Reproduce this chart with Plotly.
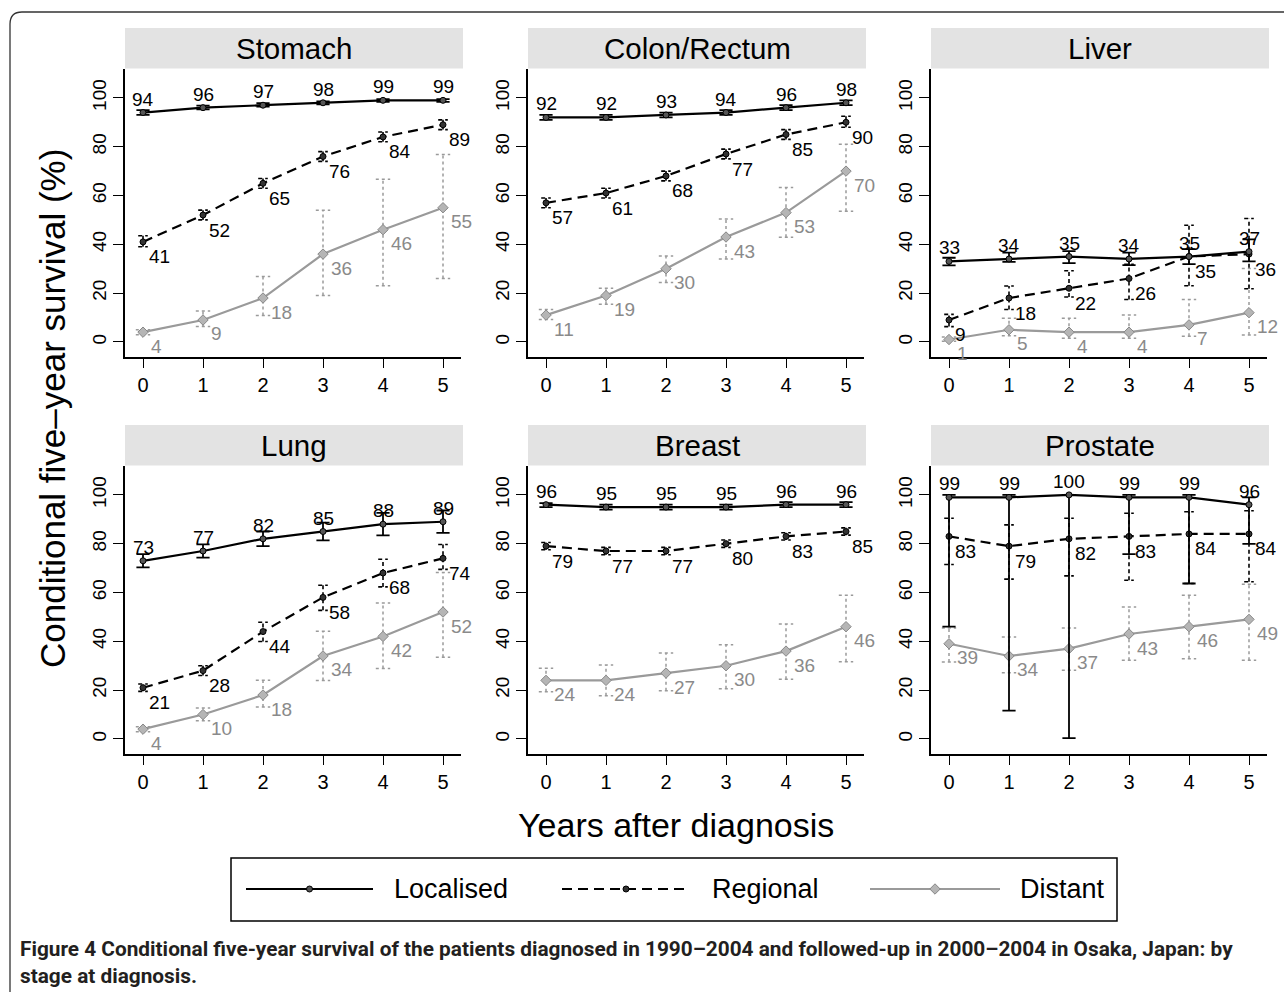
import plotly.graph_objects as go

W, H = 1284, 992
FONT = "Liberation Sans"

years = [0, 1, 2, 3, 4, 5]
panel_titles = ["Stomach", "Colon/Rectum", "Liver", "Lung", "Breast", "Prostate"]
y_ticks = [0, 20, 40, 60, 80, 100]

# ---------------- data (value, lower CI, upper CI) ----------------
stomach_loc = [94, 96, 97, 98, 99, 99]
stomach_loc_lo = [93, 95.3, 96.4, 97.4, 98.4, 98.4]
stomach_loc_hi = [95, 96.8, 97.8, 98.6, 99.5, 99.5]
stomach_reg = [41, 52, 65, 76, 84, 89]
stomach_reg_lo = [39, 50, 63, 74, 82, 87]
stomach_reg_hi = [43.5, 54, 67, 78, 86, 91]
stomach_dist = [4, 9, 18, 36, 46, 55]
stomach_dist_lo = [3, 6.3, 10.8, 19, 23, 26]
stomach_dist_hi = [5, 12.7, 26.8, 54, 66.7, 76.8]

colon_loc = [92, 92, 93, 94, 96, 98]
colon_loc_lo = [91, 91, 92, 93, 95, 97]
colon_loc_hi = [93, 93, 94, 95, 97, 99]
colon_reg = [57, 61, 68, 77, 85, 90]
colon_reg_lo = [55, 59, 66, 75, 83, 88]
colon_reg_hi = [59, 63, 70, 79, 87, 92.5]
colon_dist = [11, 19, 30, 43, 53, 70]
colon_dist_lo = [9.2, 15.4, 24.4, 34, 42.9, 53.6]
colon_dist_hi = [13.3, 22, 35.2, 50.4, 63.3, 81]

liver_loc = [33, 34, 35, 34, 35, 37]
liver_loc_lo = [31.4, 32.8, 32.3, 31.5, 31.9, 33]
liver_loc_hi = [34.5, 36.6, 37.2, 36.6, 38, 42]
liver_reg = [9, 18, 22, 26, 35, 36]
liver_reg_lo = [6.3, 13.3, 18.4, 17.4, 23, 21.8]
liver_reg_hi = [11.3, 22.9, 29.2, 31.8, 47.8, 50.6]
liver_dist = [1, 5, 4, 4, 7, 12]
liver_dist_lo = [0.3, 2.5, 1.5, 1.5, 2.3, 2.9]
liver_dist_hi = [2, 9.7, 9.7, 11, 17.4, 30.1]

lung_loc = [73, 77, 82, 85, 88, 89]
lung_loc_lo = [70.3, 74.3, 79, 81.4, 83.4, 84.4]
lung_loc_hi = [75.7, 79.7, 85, 88.6, 92.6, 93.6]
lung_reg = [21, 28, 44, 58, 68, 74]
lung_reg_lo = [19.5, 26, 39.9, 52.7, 62.3, 69.5]
lung_reg_hi = [22.5, 30, 47.8, 63, 73.6, 79.7]
lung_dist = [4, 10, 18, 34, 42, 52]
lung_dist_lo = [3, 7.5, 13.1, 24, 28.9, 33.5]
lung_dist_hi = [5, 12.7, 24.1, 44.1, 55.7, 68.2]

breast_loc = [96, 95, 95, 95, 96, 96]
breast_loc_lo = [95, 94, 94, 94, 95, 95]
breast_loc_hi = [96.6, 96, 96, 96, 97, 97]
breast_reg = [79, 77, 77, 80, 83, 85]
breast_reg_lo = [77.5, 75.5, 75.5, 78.5, 81.5, 83.5]
breast_reg_hi = [80.5, 78.5, 78.5, 81.5, 84.5, 86.5]
breast_dist = [24, 24, 27, 30, 36, 46]
breast_dist_lo = [19.3, 17.7, 19.8, 20.6, 24.5, 31.6]
breast_dist_hi = [29, 30.3, 35.2, 38.6, 47.1, 58.9]

prostate_loc = [99, 99, 100, 99, 99, 96]
prostate_loc_lo = [46, 11.6, 0.3, 75.7, 63.7, 79.9]
prostate_loc_hi = [100, 100, 100, 100, 100, 99]
prostate_reg = [83, 79, 82, 83, 84, 84]
prostate_reg_lo = [71.5, 65.5, 66.8, 65, 63.7, 64.4]
prostate_reg_hi = [90.4, 87.7, 90.4, 92.5, 93.1, 93.5]
prostate_dist = [39, 34, 37, 43, 46, 49]
prostate_dist_lo = [31.5, 27.1, 28.1, 32.2, 32.9, 32.2]
prostate_dist_hi = [45.5, 41.8, 45.5, 54.1, 58.9, 63.4]

panels = [
    ((stomach_loc, stomach_loc_lo, stomach_loc_hi), (stomach_reg, stomach_reg_lo, stomach_reg_hi), (stomach_dist, stomach_dist_lo, stomach_dist_hi)),
    ((colon_loc, colon_loc_lo, colon_loc_hi), (colon_reg, colon_reg_lo, colon_reg_hi), (colon_dist, colon_dist_lo, colon_dist_hi)),
    ((liver_loc, liver_loc_lo, liver_loc_hi), (liver_reg, liver_reg_lo, liver_reg_hi), (liver_dist, liver_dist_lo, liver_dist_hi)),
    ((lung_loc, lung_loc_lo, lung_loc_hi), (lung_reg, lung_reg_lo, lung_reg_hi), (lung_dist, lung_dist_lo, lung_dist_hi)),
    ((breast_loc, breast_loc_lo, breast_loc_hi), (breast_reg, breast_reg_lo, breast_reg_hi), (breast_dist, breast_dist_lo, breast_dist_hi)),
    ((prostate_loc, prostate_loc_lo, prostate_loc_hi), (prostate_reg, prostate_reg_lo, prostate_reg_hi), (prostate_dist, prostate_dist_lo, prostate_dist_hi)),
]

legend_names = ["Localised", "Regional", "Distant"]

# ---------------- styles ----------------
GRAY = "#9a9a9a"
styles = {
    "Localised": dict(line=dict(color="black", width=2.2),
                      marker=dict(symbol="circle", size=6, color="#555", line=dict(color="black", width=1)),
                      err=dict(color="black", width=1.8, dash="solid"), cap=0.11,
                      lab=dict(color="black", xanchor="center", yanchor="bottom", xshift=0, yshift=1)),
    "Regional": dict(line=dict(color="black", width=2.2, dash="10px,6px"),
                     marker=dict(symbol="circle", size=6, color="#333", line=dict(color="black", width=1)),
                     err=dict(color="black", width=1.6, dash="4px,3px"), cap=0.08,
                     lab=dict(color="black", xanchor="left", yanchor="middle", xshift=4, yshift=-15)),
    "Distant": dict(line=dict(color=GRAY, width=2.2),
                    marker=dict(symbol="diamond", size=8, color="#b5b5b5", line=dict(color="#888", width=1)),
                    err=dict(color=GRAY, width=1.5, dash="dot"), cap=0.12,
                    lab=dict(color="#8a8a8a", xanchor="left", yanchor="middle", xshift=6, yshift=-14)),
}

col_px = [(125, 461), (528, 864), (931, 1267)]
row_px = [(68.6, 356.6), (465.6, 753.6)]
strip_px = [(28, 68.6), (425, 465.6)]

fig = go.Figure()
annotations = []
shapes = []

for i, (title, series) in enumerate(zip(panel_titles, panels)):
    r, c = divmod(i, 3)
    sfx = "" if i == 0 else str(i + 1)
    xa, ya = "x" + sfx, "y" + sfx
    x0, x1 = col_px[c]
    y0, y1 = row_px[r]
    fig.layout["xaxis" + sfx] = dict(
        domain=[x0 / W, x1 / W], anchor=ya, range=[-0.3, 5.3],
        tickmode="array", tickvals=years, ticktext=[str(v) for v in years],
        ticks="outside", ticklen=10, tickwidth=1.3, tickcolor="black",
        showline=True, linecolor="black", linewidth=1.5, showgrid=False, zeroline=False,
        tickfont=dict(family=FONT, size=20, color="black"),
    )
    fig.layout["yaxis" + sfx] = dict(
        domain=[1 - y1 / H, 1 - y0 / H], anchor=xa, range=[-6, 112],
        tickmode="array", tickvals=y_ticks, ticktext=[str(v) for v in y_ticks],
        ticks="outside", ticklen=10, tickwidth=1.3, tickcolor="black", tickangle=-90,
        showline=True, linecolor="black", linewidth=1.5, showgrid=False, zeroline=False,
        tickfont=dict(family=FONT, size=19, color="black"),
    )
    # header strip
    sy0, sy1 = strip_px[r]
    shapes.append(dict(type="rect", xref="paper", yref="paper",
                       x0=x0 / W, x1=(x1 + 2) / W, y0=1 - sy1 / H, y1=1 - sy0 / H,
                       fillcolor="#e3e3e3", line=dict(width=0), layer="below"))
    annotations.append(dict(text=title, xref="paper", yref="paper",
                            x=(x0 + x1 + 2) / 2 / W, y=1 - (sy0 + sy1) / 2 / H,
                            showarrow=False, xanchor="center", yanchor="middle",
                            font=dict(family=FONT, size=29.5, color="black")))

    for name, (vals, lo, hi) in reversed(list(zip(legend_names, series))):
        st = styles[name]
        ex, ey = [], []
        cw = st["cap"]
        for x, l, h in zip(years, lo, hi):
            ex += [x, x, None, x - cw, x + cw, None, x - cw, x + cw, None]
            ey += [l, h, None, l, l, None, h, h, None]
        fig.add_trace(go.Scatter(x=ex, y=ey, xaxis=xa, yaxis=ya, mode="lines",
                                 line=st["err"], hoverinfo="skip", showlegend=False))
        fig.add_trace(go.Scatter(x=years, y=vals, xaxis=xa, yaxis=ya, mode="lines+markers",
                                 line=st["line"], marker=st["marker"], name=name,
                                 showlegend=False))
        lab = st["lab"]
        for x, v in zip(years, vals):
            annotations.append(dict(text=str(v), x=x, y=v, xref=xa, yref=ya, showarrow=False,
                                    xanchor=lab["xanchor"], yanchor=lab["yanchor"],
                                    xshift=lab["xshift"], yshift=lab["yshift"],
                                    font=dict(family=FONT, size=19, color=lab["color"])))

# ---------------- overlay canvas axis (pixel units) for legend/border ----------------
fig.layout["xaxis7"] = dict(domain=[0, 1], range=[0, W], visible=False, anchor="y7", fixedrange=True)
fig.layout["yaxis7"] = dict(domain=[0, 1], range=[H, 0], visible=False, anchor="x7", fixedrange=True)

# legend box
shapes.append(dict(type="rect", xref="x7", yref="y7", x0=231, x1=1117, y0=858, y1=921,
                   line=dict(color="black", width=1.5), fillcolor="rgba(0,0,0,0)"))
leg_pos = [(246, 373, 392), (562, 690, 710), (870, 1000, 1018)]
for name, (lx0, lx1, tx) in zip(legend_names, leg_pos):
    st = styles[name]
    fig.add_trace(go.Scatter(x=[lx0, lx1], y=[889, 889], xaxis="x7", yaxis="y7", mode="lines",
                             line=st["line"], hoverinfo="skip", showlegend=False))
    fig.add_trace(go.Scatter(x=[(lx0 + lx1) / 2], y=[889], xaxis="x7", yaxis="y7", mode="markers",
                             marker=st["marker"], hoverinfo="skip", showlegend=False))
    annotations.append(dict(text=name, x=tx, y=889, xref="x7", yref="y7", showarrow=False,
                            xanchor="left", yanchor="middle",
                            font=dict(family=FONT, size=27, color="black")))

# outer border (rounded top-left corner)
shapes.append(dict(type="path", xref="x7", yref="y7",
                   path="M 10,1000 L 10,24 Q 10,12 22,12 L 1300,12",
                   line=dict(color="#333", width=1.3)))

# axis titles
annotations.append(dict(text="Conditional five\u2013year survival (%)", x=52, y=409, xref="x7", yref="y7",
                        showarrow=False, textangle=-90, xanchor="center", yanchor="middle",
                        font=dict(family=FONT, size=35, color="black")))
annotations.append(dict(text="Years after diagnosis", x=676, y=825, xref="x7", yref="y7",
                        showarrow=False, xanchor="center", yanchor="middle",
                        font=dict(family=FONT, size=34, color="black")))

# caption
annotations.append(dict(
    text="<b>Figure 4 Conditional five-year survival of the patients diagnosed in 1990\u20132004 and followed-up in 2000\u20132004 in Osaka, Japan: by</b>",
    x=18, y=949, xref="x7", yref="y7", showarrow=False, xanchor="left", yanchor="middle",
    font=dict(family="Roboto", size=20.8, color="#231f20")))
annotations.append(dict(
    text="<b>stage at diagnosis.</b>",
    x=18, y=976, xref="x7", yref="y7", showarrow=False, xanchor="left", yanchor="middle",
    font=dict(family="Roboto", size=20.8, color="#231f20")))

fig.update_layout(width=W, height=H, margin=dict(l=0, r=0, t=0, b=0),
                  paper_bgcolor="white", plot_bgcolor="rgba(0,0,0,0)",
                  showlegend=False, shapes=shapes, annotations=annotations)

fig.write_html("out.html", config={"displayModeBar": False},
               post_script="document.body.style.margin='0';document.body.style.overflow='hidden';")
